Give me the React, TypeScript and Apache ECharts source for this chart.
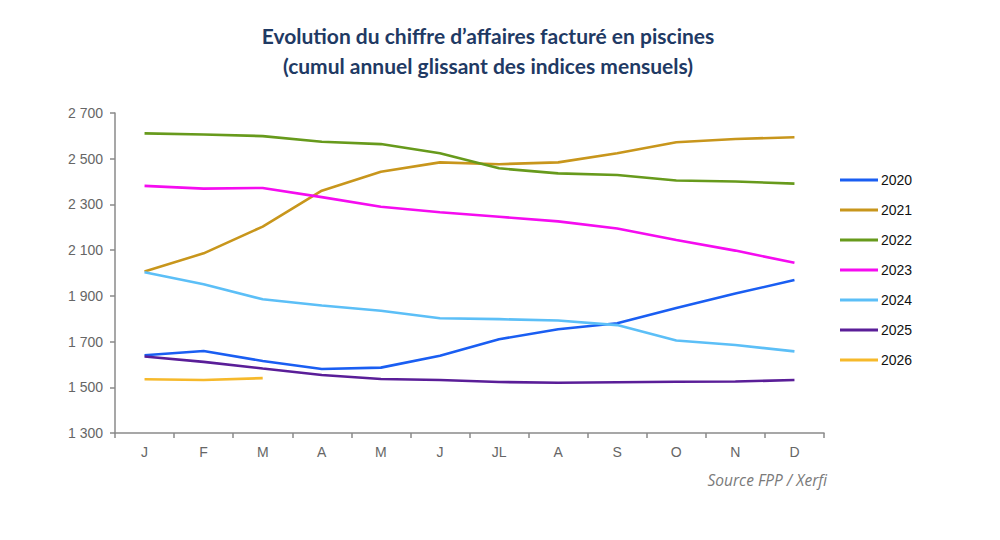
import React, { useEffect, useRef } from "react";
import * as echarts from "echarts";

const months = ["J", "F", "M", "A", "M", "J", "JL", "A", "S", "O", "N", "D"];
const yTicks = [1300, 1500, 1700, 1900, 2100, 2300, 2500, 2700];

const s2020 = [1640, 1659, 1615, 1580, 1586, 1638, 1710, 1754, 1780, 1847, 1910, 1969];
const s2021 = [2007, 2086, 2203, 2360, 2443, 2484, 2476, 2484, 2524, 2572, 2586, 2594];
const s2022 = [2611, 2606, 2599, 2574, 2564, 2524, 2458, 2436, 2429, 2405, 2400, 2391];
const s2023 = [2381, 2369, 2372, 2332, 2290, 2266, 2246, 2226, 2195, 2144, 2098, 2045];
const s2024 = [2003, 1951, 1885, 1858, 1835, 1802, 1798, 1792, 1772, 1705, 1685, 1657];
const s2025 = [1635, 1611, 1582, 1554, 1536, 1532, 1523, 1520, 1522, 1524, 1525, 1532];
const s2026 = [1535, 1532, 1540];

const seriesDefs = [
  { name: "2020", data: s2020, color: "#1a5ef2" },
  { name: "2021", data: s2021, color: "#c8961c" },
  { name: "2022", data: s2022, color: "#679a1c" },
  { name: "2023", data: s2023, color: "#f50cf0" },
  { name: "2024", data: s2024, color: "#5cbff7" },
  { name: "2025", data: s2025, color: "#5a1e98" },
  { name: "2026", data: s2026, color: "#f6b92b" },
];

const fmt = (v: number) => {
  const s = String(v);
  return s.length > 3 ? s.slice(0, s.length - 3) + " " + s.slice(s.length - 3) : s;
};

export default function App() {
  const ref = useRef<HTMLDivElement>(null);
  useEffect(() => {
    if (!ref.current) return;
    const chart = echarts.init(ref.current, undefined, { renderer: "svg" });
    chart.setOption({
      animation: false,
      backgroundColor: "#ffffff",
      title: {
        text: "Evolution du chiffre d\u2019affaires facturé en piscines\n(cumul annuel glissant des indices mensuels)",
        left: 483,
        top: 15,
        textAlign: "center",
        textStyle: {
          fontFamily: "Lato",
          fontWeight: "bold",
          fontSize: 21,
          color: "#1f3a64",
          lineHeight: 30,
        },
      },
      legend: {
        orient: "vertical",
        left: 835,
        top: 167,
        itemWidth: 38,
        itemHeight: 3,
        itemGap: 14,
        icon: "rect",
        textStyle: { fontFamily: "Liberation Sans", fontSize: 14, color: "#111111", padding: [0, 0, 0, -2], lineHeight: 16 },
        data: seriesDefs.map((s) => ({ name: s.name, itemStyle: { color: s.color } })),
      },
      grid: { left: 115, right: 176, top: 113, bottom: 107, containLabel: false },
      xAxis: {
        type: "category",
        data: months,
        boundaryGap: true,
        axisLine: { lineStyle: { color: "#8a8a8a", width: 1.5 } },
        axisTick: { show: true, length: 5, alignWithLabel: false, lineStyle: { color: "#8a8a8a", width: 1.5 } },
        axisLabel: { color: "#666666", fontSize: 14, margin: 12, fontFamily: "Liberation Sans", interval: 0 },
      },
      yAxis: {
        type: "value",
        min: 1300,
        max: 2700,
        splitLine: { show: false },
        axisLine: { show: true, lineStyle: { color: "#8a8a8a", width: 1.5 } },
        axisTick: { show: true, length: 5, customValues: yTicks, lineStyle: { color: "#8a8a8a", width: 1.5 } },
        axisLabel: {
          customValues: yTicks,
          color: "#666666",
          fontSize: 14,
          margin: 12,
          fontFamily: "Liberation Sans",
          formatter: (v: number) => fmt(v),
        },
      },
      graphic: [
        {
          type: "text",
          right: 173,
          top: 472,
          style: {
            text: "Source FPP / Xerfi",
            fontFamily: "Open Sans",
            fontStyle: "italic",
            fontSize: 15.5,
            fill: "#7a7a7a",
          },
        },
      ],
      series: seriesDefs.map((s) => ({
        name: s.name,
        type: "line",
        data: s.data,
        showSymbol: false,
        symbol: "none",
        lineStyle: { color: s.color, width: 2.6 },
        itemStyle: { color: s.color },
      })),
    });
    return () => chart.dispose();
  }, []);
  return <div ref={ref} style={{ position: "fixed", left: 0, top: 0, width: 1000, height: 540 }} />;
}
